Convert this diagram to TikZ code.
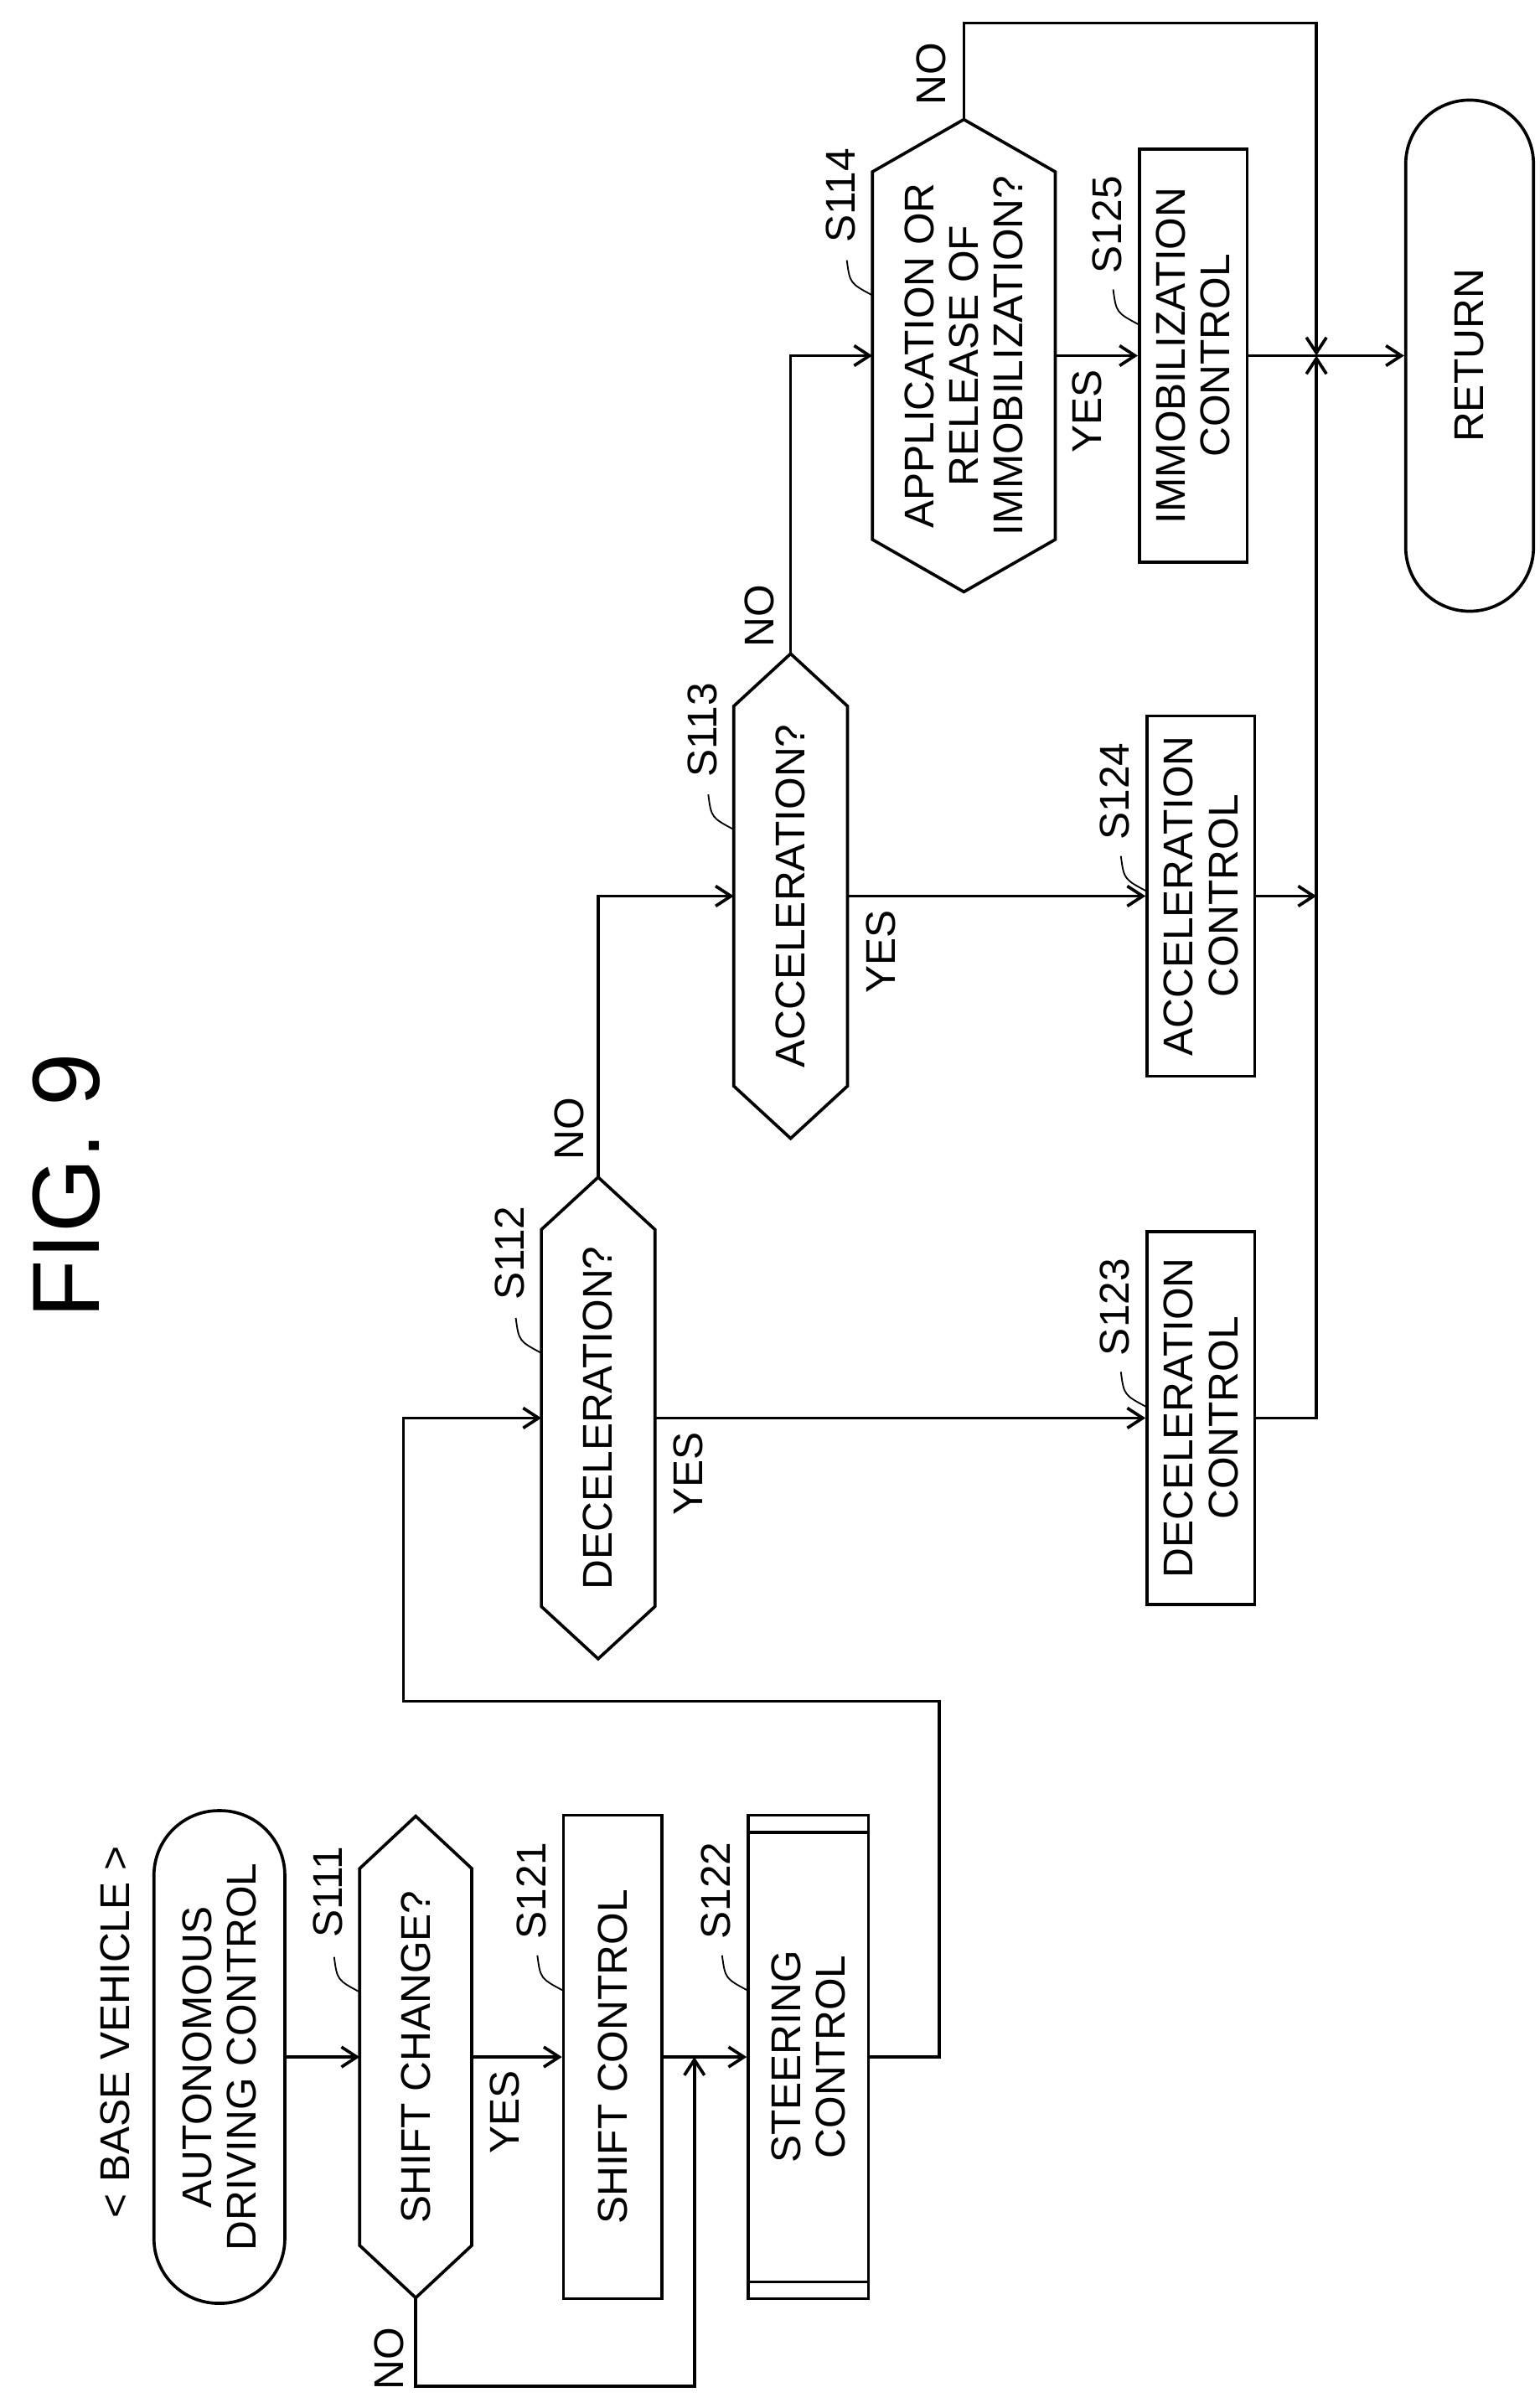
\documentclass[tikz,border=0pt]{standalone}
\usepackage{fontspec}
\setmainfont{Liberation Sans}
\usetikzlibrary{arrows.meta}
\begin{document}
\begin{tikzpicture}[x=0.5pt,y=-0.5pt,
  shp/.style={draw,line width=1pt,inner sep=0pt},
  ghost/.style={inner sep=0pt},
  txt/.style={rotate=90,align=center,inner sep=0pt,font=\fontsize{13.5}{14.5}\selectfont},
  lbl/.style={rotate=90,inner sep=0pt,font=\fontsize{13.5}{14}\selectfont},
  ln/.style={line width=1pt},
  arr/.style={line width=1pt,-{Straight Barb[length=5pt,width=6.5pt]}},
  lead/.style={line width=0.5pt}]
\useasboundingbox (0,0) rectangle (1000,1564);
\newcommand\hexa[1]{\draw[line width=1pt] (#1.north) -- ([yshift=-17pt]#1.north east) -- ([yshift=17pt]#1.south east) -- (#1.south) -- ([yshift=17pt]#1.south west) -- ([yshift=-17pt]#1.north west) -- cycle;}
\newcommand\steplab[4]{\node[lbl] (#1) at ({#2-21},{#3+49}) {#4};
  \draw[lead] ({#2-17},{#3+91}) .. controls ({#2-15},{#3+106}) .. ({#2},{#3+114});}

\node[lbl,font=\fontsize{31}{31}\selectfont] (fig) at (43,770) {FIG. 9};
\node[lbl] (bv) at (75,1320) {< BASE VEHICLE >};

% shapes
\node[shp,rounded corners=21pt,minimum width=42.5pt,minimum height=160pt] (start) at (142.5,1336) {};
\node[txt] (startt) at (start) {AUTONOMOUS\\DRIVING CONTROL};
\node[ghost,minimum width=36pt,minimum height=156pt] (s111) at (270,1336) {}; \hexa{s111}
\node[txt] (s111t) at (s111) {SHIFT CHANGE?};
\node[shp,minimum width=32pt,minimum height=157pt] (s121) at (398,1336) {};
\node[txt] (s121t) at (s121) {SHIFT CONTROL};
\node[shp,minimum width=39pt,minimum height=157pt] (s122) at (525,1336) {};
\draw[line width=1pt] ([yshift=-6pt]s122.north west) -- ([yshift=-6pt]s122.north east);
\draw[line width=1pt] ([yshift=6pt]s122.south west) -- ([yshift=6pt]s122.south east);
\node[txt] (s122t) at (s122) {STEERING\\CONTROL};
\node[ghost,minimum width=36.5pt,minimum height=156pt] (s112) at (388.5,921) {}; \hexa{s112}
\node[txt] (s112t) at (s112) {DECELERATION?};
\node[shp,minimum width=35pt,minimum height=121pt] (s123) at (780,921) {};
\node[txt] (s123t) at (s123) {DECELERATION\\CONTROL};
\node[ghost,minimum width=36.5pt,minimum height=157pt] (s113) at (513.5,582) {}; \hexa{s113}
\node[txt] (s113t) at (s113) {ACCELERATION?};
\node[shp,minimum width=35pt,minimum height=117pt] (s124) at (780,582) {};
\node[txt] (s124t) at (s124) {ACCELERATION\\CONTROL};
\node[ghost,minimum width=59pt,minimum height=153pt] (s114) at (626,231) {}; \hexa{s114}
\node[txt] (s114t) at (s114) {APPLICATION OR\\RELEASE OF\\IMMOBILIZATION?};
\node[shp,minimum width=35pt,minimum height=134pt] (s125) at (775,231) {};
\node[txt] (s125t) at (s125) {IMMOBILIZATION\\CONTROL};
\node[shp,rounded corners=20.75pt,minimum width=41.5pt,minimum height=166pt] (ret) at (954.5,231) {};
\node[txt] (rett) at (ret) {RETURN};

% step labels
\steplab{l111}{234}{1180}{S111}
\steplab{l121}{366}{1179}{S121}
\steplab{l122}{486}{1179}{S122}
\steplab{l112}{352}{765}{S112}
\steplab{l123}{745}{800}{S123}
\steplab{l113}{477}{425}{S113}
\steplab{l124}{745}{465}{S124}
\steplab{l114}{567}{78}{S114}
\steplab{l125}{740}{97}{S125}

% coordinates
\coordinate (j1) at (451,1336);
\coordinate (j1b) at (451,1550);
\coordinate (c1) at (610,1105);
\coordinate (c2) at (262,921);
\coordinate (c3) at (855,15);
\coordinate (c4) at (855,582);
\coordinate (m) at (855,231);

% connectors
\draw[arr] (start.east) -- (s111.west);
\draw[arr] (s111.east) -- (s121.west);
\draw[arr] (s121.east) -- (s122.west);
\draw[arr] (s111.south) |- (j1b) -- (j1);
\draw[arr] (s122.east) -| (c1) -| (c2) -- (s112.west);
\draw[arr] (s112.east) -- (s123.west);
\draw[arr] (s112.north) |- (s113.west);
\draw[arr] (s113.east) -- (s124.west);
\draw[arr] (s113.north) |- (s114.west);
\draw[arr] (s114.east) -- (s125.west);
\draw[arr] (s114.north) |- (c3) -- (m);
\draw[arr] (s123.east) -| (m);
\draw[arr] (s124.east) -- (c4);
\draw[ln] (s125.east) -- (m);
\draw[arr] (m) -- (ret.west);

% branch labels
\node[lbl] (y111) at (328,1372) {YES};
\node[lbl] (n111) at (253,1532) {NO};
\node[lbl] (y112) at (447,957) {YES};
\node[lbl] (n112) at (370,733) {NO};
\node[lbl] (y113) at (572,618) {YES};
\node[lbl] (n113) at (493,400) {NO};
\node[lbl] (y114) at (706,267) {YES};
\node[lbl] (n114) at (605,48) {NO};
\end{tikzpicture}
\end{document}
